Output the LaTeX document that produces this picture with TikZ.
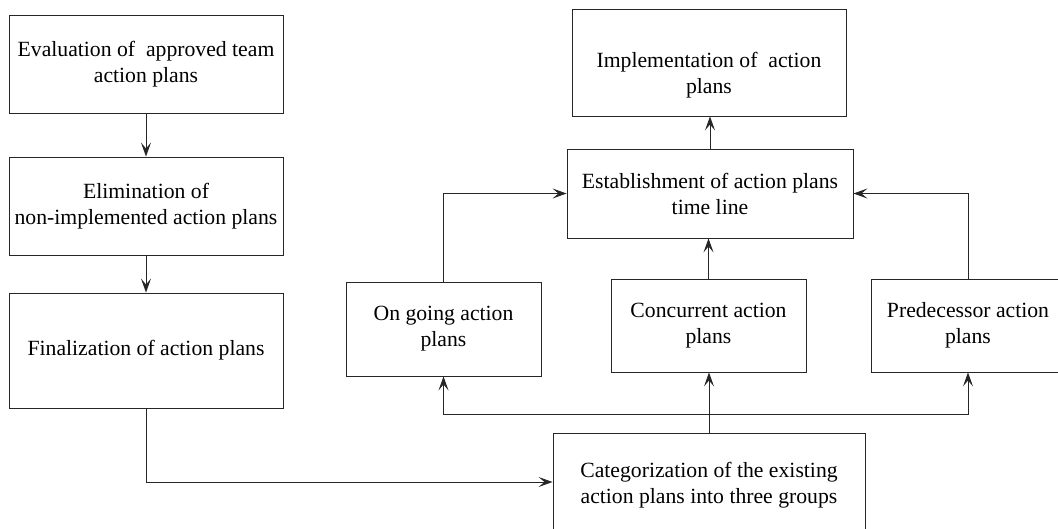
\documentclass[tikz,border=0pt]{standalone}
\usepackage{fontspec}
\setmainfont{Liberation Serif}
\usetikzlibrary{arrows.meta,calc}
\begin{document}
\begin{tikzpicture}[x=1pt,y=-1pt,
  every node/.style={font=\fontsize{21.7}{26}\selectfont},
  boxnode/.style={draw=black!85,line width=0.9pt,rectangle,inner sep=0pt,align=center},
  txtnode/.style={align=center,inner sep=0pt},
  arr/.style={draw=black!85,line width=0.9pt,-{Stealth[length=14pt,width=10pt,inset=6pt]}},
  ln/.style={draw=black!85,line width=0.9pt}]
\useasboundingbox (0,0) rectangle (1058,528);
\node[boxnode,minimum width=274,minimum height=98] (eval) at (146,64) {Evaluation of~~approved team\\action plans};
\node[boxnode,minimum width=274,minimum height=98] (elim) at (146,206) {Elimination of\\non-implemented action plans};
\node[boxnode,minimum width=274,minimum height=115] (final) at (146,350.5) {Finalization of action plans};
\node[boxnode,minimum width=312,minimum height=104] (cat) at (709,485) {Categorization of the existing\\action plans into three groups};
\node[boxnode,minimum width=195,minimum height=94] (ongoing) at (443.5,329) {On going action\\plans};
\node[boxnode,minimum width=195,minimum height=93] (conc) at (708.5,325.5) {Concurrent action\\plans};
\node[boxnode,minimum width=194,minimum height=93] (pred) at (968,325.5) {Predecessor action\\plans};
\node[boxnode,minimum width=286,minimum height=89] (estab) at (710,193.5) {Establishment of action plans\\time line};
\node[boxnode,minimum width=274,minimum height=107] (impl) at (709,62.5) {};
\node[txtnode] (impltext) at (709,75.5) {Implementation of~~action\\plans};
\coordinate (bus) at (709,414);
\draw[arr] (eval.south) -- (elim.north);
\draw[arr] (elim.south) -- (final.north);
\draw[arr] (final.south) |- ([yshift=3pt]cat.west);
\draw[arr] (cat.north) -- (cat.north |- conc.south);
\draw[arr] (bus) -| (ongoing.south);
\draw[arr] (bus) -| (pred.south);
\draw[arr] (ongoing.north) |- (estab.west);
\draw[arr] (pred.north) |- (estab.east);
\draw[arr] (conc.north) -- (conc.north |- estab.south);
\draw[arr] (estab.north) -- (estab.north |- impl.south);
\end{tikzpicture}
\end{document}
